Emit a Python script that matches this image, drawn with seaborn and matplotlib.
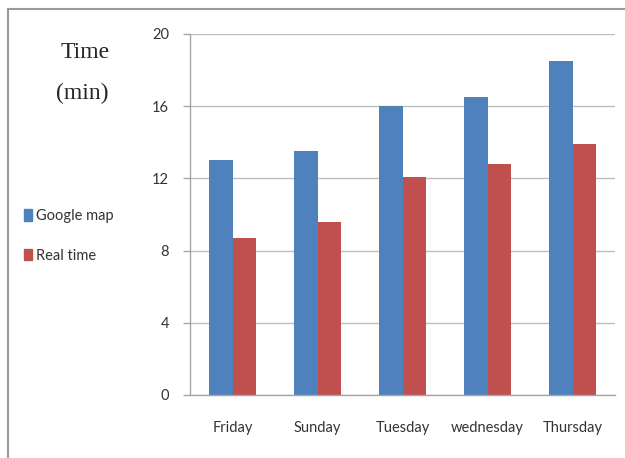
import matplotlib
matplotlib.use("Agg")
import matplotlib.pyplot as plt
import matplotlib.patches as mpatches
import pandas as pd
import seaborn as sns

# data
days = ["Friday", "Sunday", "Tuesday", "wednesday", "Thursday"]
google_map = [13.0, 13.5, 16.0, 16.5, 18.5]
real_time = [8.7, 9.6, 12.1, 12.8, 13.9]
series = ["Google map", "Real time"]
colors = ["#4F81BD", "#C0504D"]

df = pd.DataFrame({
    "day": days * 2,
    "minutes": google_map + real_time,
    "series": [series[0]] * len(days) + [series[1]] * len(days),
})

sns.set_style("white")
plt.rcParams["font.family"] = ["Lato", "DejaVu Sans"]

fig = plt.figure(figsize=(6.25, 4.58), dpi=100)
ax = fig.add_axes([0.304, 0.1376, 0.68, 0.7882])

sns.barplot(data=df, x="day", y="minutes", hue="series", order=days,
            hue_order=series, palette=colors, width=0.56, saturation=1,
            linewidth=0, ax=ax, legend=False)

ax.set_ylim(0, 20)
ax.set_xlim(-0.5, len(days) - 0.5)
ax.set_yticks([0, 4, 8, 12, 16, 20])
ax.yaxis.grid(True, color="#BDBDBD", linewidth=1)
ax.set_axisbelow(True)
ax.set_xlabel("")
ax.set_ylabel("")

for side in ["top", "right"]:
    ax.spines[side].set_visible(False)
for side in ["left", "bottom"]:
    ax.spines[side].set_color("#A6A6A6")
    ax.spines[side].set_linewidth(1)

ax.set_xticks(range(len(days)))
ax.set_xticklabels(days)
ax.set_xticks([i - 0.5 for i in range(len(days) + 1)], minor=True)
ax.tick_params(axis="x", which="major", length=0, pad=19, labelsize=10.5, colors="#333333")
ax.tick_params(axis="x", which="minor", length=5, width=1, color="#A6A6A6", direction="out")
ax.tick_params(axis="y", length=5, width=1, color="#A6A6A6", direction="out", left=True,
               pad=10, labelsize=10.5, labelcolor="#333333")

fig.text(0.136, 0.885, "Time", family="Liberation Serif", fontsize=17, ha="center", va="center")
fig.text(0.131, 0.797, "(min)", family="Liberation Serif", fontsize=17, ha="center", va="center")

handles = [mpatches.Patch(color=c, label=s) for c, s in zip(colors, series)]
fig.legend(handles=handles, loc="center left", bbox_to_anchor=(0.038, 0.485),
           frameon=False, handlelength=0.55, handleheight=0.85, handletextpad=0.3,
           labelspacing=1.75, borderpad=0, borderaxespad=0, fontsize=10.5,
           labelcolor="#333333")

# frame around the figure (only left and top visible in the reference)
fig.add_artist(mpatches.Rectangle((0.013, -0.05), 1.2, 1.03, transform=fig.transFigure,
                                  fill=False, edgecolor="#9A9A9A", linewidth=1.5))

fig.savefig("out.png", dpi=100)
